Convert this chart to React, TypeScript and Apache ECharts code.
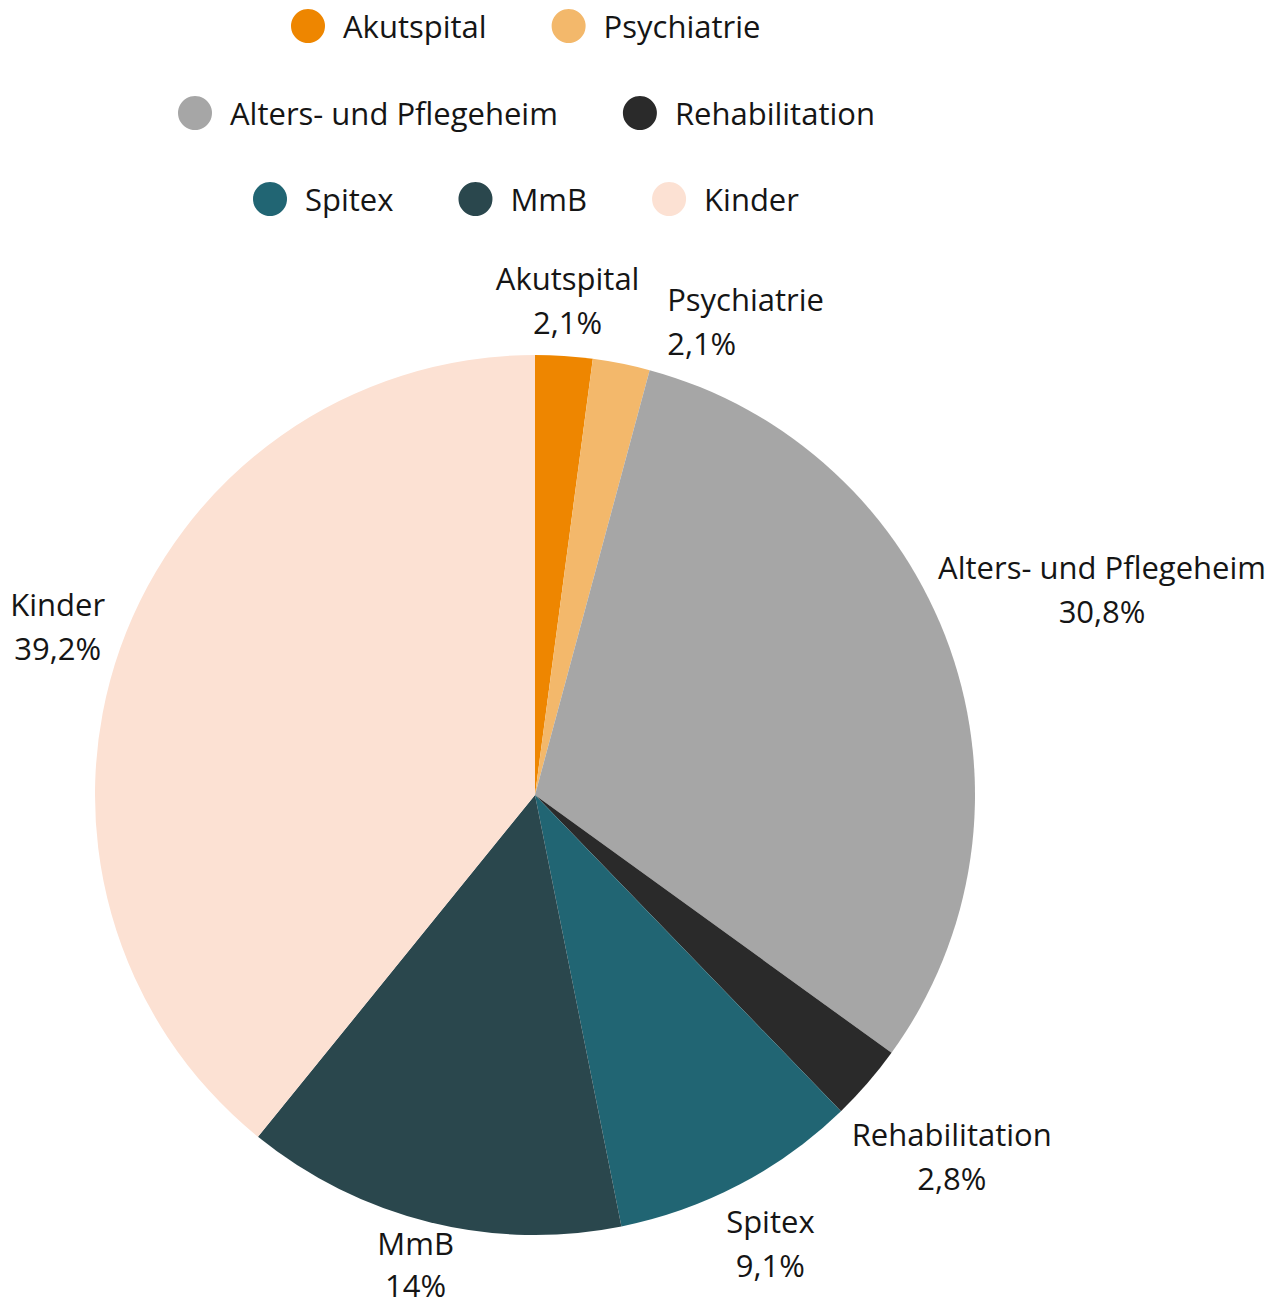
import React, { useEffect, useRef } from "react";
import * as echarts from "echarts";

const categories = [
  "Akutspital",
  "Psychiatrie",
  "Alters- und Pflegeheim",
  "Rehabilitation",
  "Spitex",
  "MmB",
  "Kinder",
];
const values = [2.1, 2.1, 30.8, 2.8, 9.1, 14, 39.2];
const colors = ["#EE8600", "#F3B86B", "#A6A6A6", "#2A2A2A", "#216573", "#2A474D", "#FCE1D3"];
const legendRows = [
  ["Akutspital", "Psychiatrie"],
  ["Alters- und Pflegeheim", "Rehabilitation"],
  ["Spitex", "MmB", "Kinder"],
];

const W = 1282;
const H = 1306;
const CX = 535;
const CY = 795;
const RADIUS = 440;
const GAP = 7;
const PAD = 26;
const MARGIN_L = 10;
const MARGIN_R = 16;
const FONT = "'Open Sans', 'Noto Sans', sans-serif";
const FONT_SIZE = 31;
const LINE_H = 44;
const LINE_H_TIGHT = 42;
const TEXT_COLOR = "#151515";
const LEGEND_TOPS = [9, 96, 182];
const LEGEND_CENTER = 526;
const ICON = 34;
const ICON_TEXT_PAD = 13;
const LEGEND_GAP = 65;

const fmtValue = (v: number) => `${String(v).replace(".", ",")}%`;

function measureWidth(ctx: CanvasRenderingContext2D | null, s: string) {
  if (!ctx) return s.length * FONT_SIZE * 0.5;
  return ctx.measureText(s).width;
}

export default function App() {
  const ref = useRef<HTMLDivElement>(null);

  useEffect(() => {
    if (!ref.current) return;
    const chart = echarts.init(ref.current, undefined, { renderer: "svg" });

    const ctx = document.createElement("canvas").getContext("2d");
    if (ctx) ctx.font = `${FONT_SIZE}px ${FONT}`;

    // label positions computed from the data angles
    const total = values.reduce((a, b) => a + b, 0);
    const placed: { x0: number; x1: number; y0: number; y1: number }[] = [];
    const positions: { x: number; y: number; align: string; lineHeight: number }[] = [];
    let acc = 0;
    values.forEach((v, i) => {
      const lines = [categories[i], fmtValue(v)];
      const w = Math.max(...lines.map((l) => measureWidth(ctx, l))) / 2;
      let lh = LINE_H;
      let theta = ((acc + v / 2) / total) * 2 * Math.PI;
      acc += v;
      let cx = CX;
      let cy = CY;
      let moved = false;
      let rect = { x0: 0, x1: 0, y0: 0, y1: 0 };
      for (let k = 0; k < 600; k++) {
        const dx = Math.sin(theta);
        const dy = -Math.cos(theta);
        let h = (lines.length * lh) / 2;
        const d = RADIUS + GAP + Math.abs(dx) * w + Math.abs(dy) * h;
        cx = CX + dx * d;
        cy = CY + dy * d;
        cx = Math.min(Math.max(cx, MARGIN_L + w), W - MARGIN_R - w);
        if (cy + h > H) {
          lh = LINE_H_TIGHT;
          h = (lines.length * lh) / 2;
          cy = H - h;
        }
        rect = { x0: cx - w, x1: cx + w, y0: cy - h, y1: cy + h };
        const hit = placed.some(
          (q) => rect.x0 < q.x1 + PAD && rect.x1 > q.x0 - PAD && rect.y0 < q.y1 && rect.y1 > q.y0
        );
        if (!hit) break;
        moved = true;
        theta += 0.004;
      }
      placed.push(rect);
      positions.push(
        moved
          ? { x: rect.x0, y: cy, align: "left", lineHeight: lh }
          : { x: cx, y: cy, align: "center", lineHeight: lh }
      );
    });

    const legendLeft = legendRows.map((row) => {
      const width =
        row.reduce((s, name) => s + ICON + 5 + ICON_TEXT_PAD + measureWidth(ctx, name), 0) +
        LEGEND_GAP * (row.length - 1);
      return Math.round(LEGEND_CENTER - width / 2);
    });

    const option: any = {
      animation: false,
      color: colors,
      legend: legendRows.map((row, k) => ({
        data: row,
        top: LEGEND_TOPS[k],
        left: legendLeft[k],
        padding: 0,
        icon: "circle",
        itemWidth: ICON,
        itemHeight: ICON,
        itemGap: LEGEND_GAP,
        selectedMode: false,
        textStyle: {
          fontSize: FONT_SIZE,
          fontFamily: FONT,
          color: TEXT_COLOR,
          padding: [0, 0, 0, ICON_TEXT_PAD],
        },
      })),
      series: [
        {
          type: "pie",
          center: [CX, CY],
          radius: RADIUS,
          startAngle: 90,
          clockwise: true,
          avoidLabelOverlap: false,
          data: categories.map((name, i) => ({
            name,
            value: values[i],
            label: { lineHeight: positions[i].lineHeight },
          })),
          itemStyle: { borderWidth: 0 },
          label: {
            show: true,
            position: "outside",
            fontSize: FONT_SIZE,
            fontFamily: FONT,
            color: TEXT_COLOR,
            lineHeight: LINE_H,
            formatter: (p: any) => `${p.name}\n${fmtValue(p.value)}`,
          },
          labelLine: { show: false },
          emphasis: { disabled: true },
          labelLayout: (p: any) => {
            const pos = positions[p.dataIndex];
            if (!pos) return {};
            return { x: pos.x, y: pos.y, align: pos.align, verticalAlign: "middle" };
          },
        },
      ],
    };
    chart.setOption(option);
    return () => chart.dispose();
  }, []);

  return (
    <div
      ref={ref}
      style={{ position: "absolute", left: 0, top: 0, width: W, height: H }}
    />
  );
}
